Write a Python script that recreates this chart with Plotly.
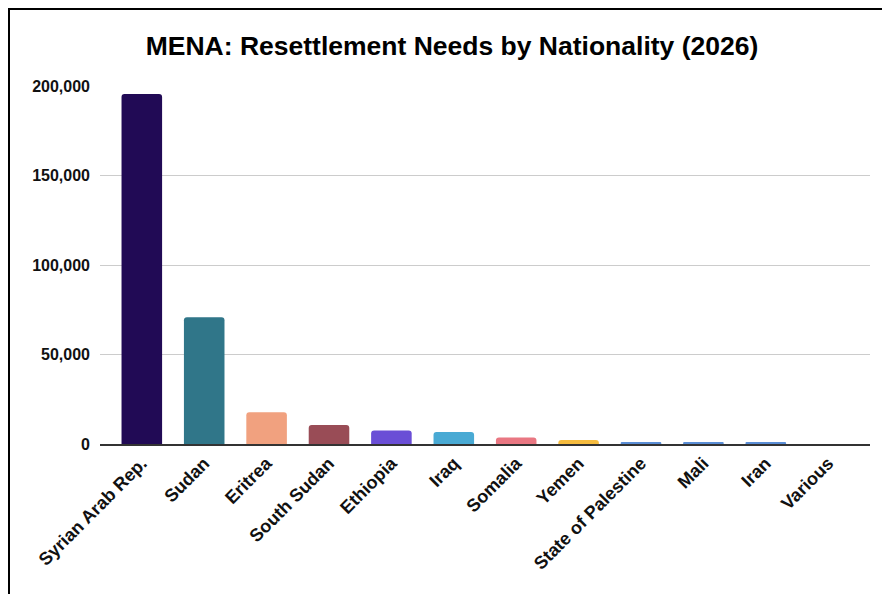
import plotly.graph_objects as go

categories = ["Syrian Arab Rep.", "Sudan", "Eritrea", "South Sudan", "Ethiopia", "Iraq",
              "Somalia", "Yemen", "State of Palestine", "Mali", "Iran", "Various"]
needs = [195500, 70800, 17800, 10600, 7600, 6700, 3700, 2200, 800, 700, 700, 0]
colors = ["#210a55", "#307689", "#f1a17f", "#994c56", "#6a4ed6", "#49aad4",
          "#e97782", "#f6bc3f", "#5b8ed6", "#5b8ed6", "#5b8ed6", "#5b8ed6"]
y_ticks = [0, 50000, 100000, 150000, 200000]

# the page body has an 8px margin, so the figure is drawn 8px in from the window edge
OFF = 8
W, H = 890 - OFF, 594 - OFF
ML, MR, MT, MB = 100 - OFF, 890 - 870, 86 - OFF, 594 - 444
pw, ph = W - ML - MR, H - MT - MB

def px_x(p):
    return (p - OFF - ML) / pw

def px_y(p):
    return (H - MB - (p - OFF)) / ph

fig = go.Figure(go.Bar(
    x=categories, y=needs, marker=dict(color=colors, cornerradius=3, line=dict(width=0)),
    width=0.65,
))

font_family = "Liberation Sans, Arial, sans-serif"
fig.update_layout(
    width=W, height=H,
    margin=dict(l=ML, r=MR, t=MT, b=MB),
    paper_bgcolor="white", plot_bgcolor="white",
    title=dict(text="<b>MENA: Resettlement Needs by Nationality (2026)</b>",
               x=(452 - OFF) / W, xanchor="center", y=1 - (46 - OFF) / H, yanchor="middle",
               font=dict(family=font_family, size=26.5, color="#000000")),
    showlegend=False,
    xaxis=dict(range=[-0.67, 11.67], tickangle=-45, showgrid=False,
               showline=True, linecolor="#333333", linewidth=1.5, layer="below traces",
               tickfont=dict(family=font_family, size=18, color="#111111"),
               ticks="", fixedrange=True,
               tickvals=categories, ticktext=["<b>%s</b>" % c for c in categories]),
    yaxis=dict(range=[0, 200000], tickvals=y_ticks,
               ticktext=["<b>%s</b>" % f"{v:,}" for v in y_ticks],
               showgrid=True, gridcolor="#cccccc", gridwidth=1, zeroline=False,
               showline=False, ticks="", ticklabelstandoff=9, layer="below traces",
               tickfont=dict(family=font_family, size=16, color="#111111")),
    shapes=[
        dict(type="line", xref="paper", yref="paper",
             x0=px_x(OFF), x1=px_x(900), y0=px_y(OFF + 1), y1=px_y(OFF + 1),
             line=dict(color="black", width=2)),
        dict(type="line", xref="paper", yref="paper",
             x0=px_x(OFF + 1), x1=px_x(OFF + 1), y0=px_y(OFF), y1=px_y(600),
             line=dict(color="black", width=2)),
    ],
)

fig.write_html("out.html")
